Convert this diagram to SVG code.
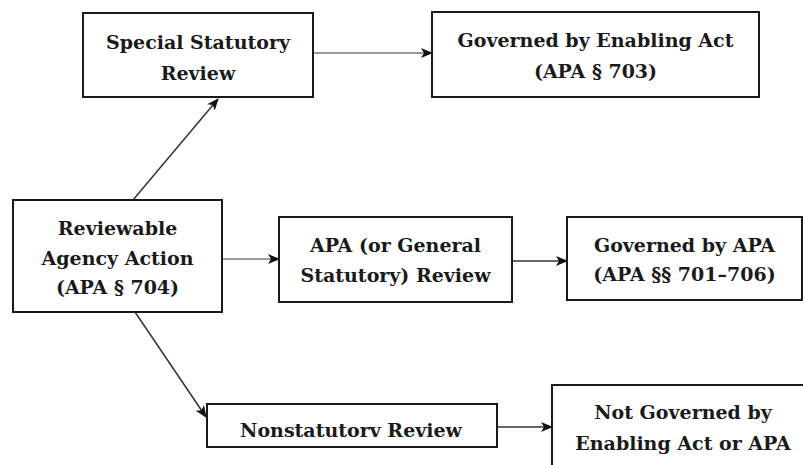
<svg xmlns="http://www.w3.org/2000/svg" width="803" height="465" viewBox="0 0 803 465">
<defs>
<style>
.box{fill:#fff;stroke:#1a1a1a;stroke-width:2}
.t{font-family:"DejaVu Serif","Liberation Serif",serif;font-weight:bold;font-size:19px;fill:#1a1a1a;text-anchor:middle}
.c{fill:none;stroke:#333;stroke-width:1.5}
.g{fill:none;stroke:#999;stroke-width:2}
</style>
<marker id="ah" viewBox="0 0 12 10" refX="11" refY="5" markerWidth="12" markerHeight="10" markerUnits="userSpaceOnUse" orient="auto">
<path d="M0,0 L12,5 L0,10 L3,5 Z" fill="#111"/>
</marker>
</defs>
<rect width="803" height="465" fill="#fff"/>
<g id="connectors">
<line class="c" x1="133" y1="200" x2="218" y2="99" marker-end="url(#ah)"/>
<line class="g" x1="313" y1="53" x2="432" y2="53" marker-end="url(#ah)"/>
<line class="g" x1="222" y1="259" x2="279" y2="259" marker-end="url(#ah)"/>
<line class="c" x1="512" y1="261" x2="567" y2="261" marker-end="url(#ah)"/>
<line class="c" x1="135" y1="312" x2="206" y2="417" marker-end="url(#ah)"/>
<line class="c" x1="497" y1="427" x2="552" y2="427" marker-end="url(#ah)"/>
</g>
<g id="special">
<rect class="box" x="83" y="13" width="230" height="84"/>
<text class="t" x="198" y="49">Special Statutory</text>
<text class="t" x="198" y="80">Review</text>
</g>
<g id="enabling">
<rect class="box" x="432" y="12" width="327" height="85"/>
<text class="t" x="595.5" y="47">Governed by Enabling Act</text>
<text class="t" x="595.5" y="78">(APA § 703)</text>
</g>
<g id="reviewable">
<rect class="box" x="13" y="200" width="209" height="112"/>
<text class="t" x="117.5" y="235">Reviewable</text>
<text class="t" x="117.5" y="265">Agency Action</text>
<text class="t" x="117.5" y="294">(APA § 704)</text>
</g>
<g id="apa-review">
<rect class="box" x="279" y="217" width="233" height="85"/>
<text class="t" x="395.5" y="252">APA (or General</text>
<text class="t" x="395.5" y="282">Statutory) Review</text>
</g>
<g id="governed-apa">
<rect class="box" x="567" y="217" width="235" height="83"/>
<text class="t" x="684.5" y="252">Governed by APA</text>
<text class="t" x="684.5" y="281">(APA §§ 701–706)</text>
</g>
<g id="nonstatutory">
<rect class="box" x="207" y="404" width="290" height="43"/>
<text class="t" x="351" y="437">Nonstatutorv Review</text>
</g>
<g id="not-governed">
<rect class="box" x="552" y="385" width="270" height="100"/>
<text class="t" x="683" y="419">Not Governed by</text>
<text class="t" x="683" y="450">Enabling Act or APA</text>
</g>
</svg>
